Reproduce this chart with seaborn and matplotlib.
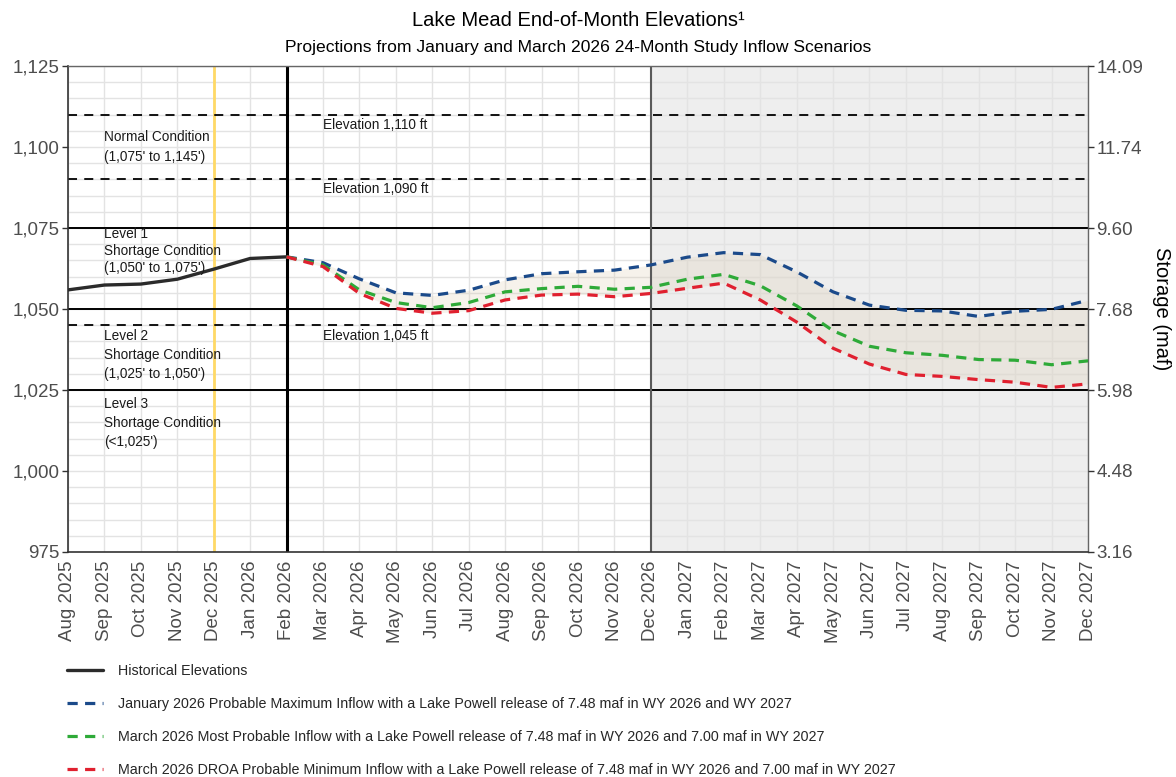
import pandas as pd
import seaborn as sns
import matplotlib.pyplot as plt

# month axis (equally spaced, one slot per month)
months = ["Aug 2025", "Sep 2025", "Oct 2025", "Nov 2025", "Dec 2025", "Jan 2026",
          "Feb 2026", "Mar 2026", "Apr 2026", "May 2026", "Jun 2026", "Jul 2026",
          "Aug 2026", "Sep 2026", "Oct 2026", "Nov 2026", "Dec 2026", "Jan 2027",
          "Feb 2027", "Mar 2027", "Apr 2027", "May 2027", "Jun 2027", "Jul 2027",
          "Aug 2027", "Sep 2027", "Oct 2027", "Nov 2027", "Dec 2027"]

hist_months = months[:7]
hist_elev = [1055.9, 1057.4, 1057.7, 1059.2, 1062.3, 1065.6, 1066.1]

proj_months = months[6:]
jan_max = [1066.1, 1064.3, 1059.3, 1055.0, 1054.2, 1055.8, 1059.0, 1060.9, 1061.5,
           1062.0, 1063.6, 1066.0, 1067.4, 1066.8, 1061.5, 1055.3, 1051.2, 1049.6,
           1049.4, 1047.7, 1049.3, 1049.9, 1052.7]
mar_most = [1066.1, 1063.6, 1055.9, 1052.0, 1050.4, 1052.0, 1055.3, 1056.3, 1057.0,
            1056.1, 1056.7, 1059.2, 1060.7, 1057.2, 1051.0, 1043.3, 1038.5, 1036.5,
            1035.7, 1034.4, 1034.2, 1032.8, 1034.0]
mar_min = [1066.1, 1063.1, 1054.8, 1050.2, 1048.7, 1049.5, 1052.8, 1054.3, 1054.6,
           1053.8, 1054.8, 1056.4, 1058.0, 1052.8, 1046.0, 1037.9, 1033.0, 1029.8,
           1029.2, 1028.2, 1027.4, 1025.8, 1026.9]

elev_ticks = [975, 1000, 1025, 1050, 1075, 1100, 1125]
elev_labels = ["975", "1,000", "1,025", "1,050", "1,075", "1,100", "1,125"]
storage_labels = ["3.16", "4.48", "5.98", "7.68", "9.60", "11.74", "14.09"]

tier_lines = [1075, 1050, 1025]
ref_lines = [1110, 1090, 1045]

labels = [
    "Historical Elevations",
    "January 2026 Probable Maximum Inflow with a Lake Powell release of 7.48 maf in WY 2026 and WY 2027",
    "March 2026 Most Probable Inflow with a Lake Powell release of 7.48 maf in WY 2026 and 7.00 maf in WY 2027",
    "March 2026 DROA Probable Minimum Inflow with a Lake Powell release of 7.48 maf in WY 2026 and 7.00 maf in WY 2027",
]

hist = pd.DataFrame({"month": hist_months, "elev": hist_elev})
hist["pos"] = hist["month"].map(months.index)
proj = pd.DataFrame({"month": proj_months, "max": jan_max, "most": mar_most, "min": mar_min})
proj["pos"] = proj["month"].map(months.index)

sns.set_theme(style="white")
plt.rcParams["font.family"] = ["Liberation Sans", "DejaVu Sans"]

fig = plt.figure(figsize=(11.76, 7.77), dpi=100)
ax = fig.add_axes([0.0578, 0.2896, 0.8674, 0.6254])

# shaded future period and grid
ax.axvspan(months.index("Dec 2026"), len(months) - 1, color="#EEEEEE", zorder=0.2, lw=0)
ax.set_axisbelow(True)
ax.set_xticks(range(len(months)))
ax.set_yticks(elev_ticks)
ax.set_yticks(range(975, 1126, 5), minor=True)
ax.grid(which="both", color="#E3E3E3", lw=1.0, zorder=0.5)

# projection band
ax.fill_between(proj["pos"], proj["max"], proj["min"], color="#D8C6A6", alpha=0.22, lw=0, zorder=1)

# reference lines
ax.axvline(months.index("Dec 2025"), color="#FFD966", lw=2, zorder=1.5)
for y in tier_lines:
    ax.axhline(y, color="black", lw=1.4, zorder=2)
for y in ref_lines:
    ax.axhline(y, color="black", lw=1.3, ls=(0, (5, 4)), zorder=2)
ax.axvline(months.index("Dec 2026"), color="#5A5A5A", lw=1.5, zorder=2)
ax.axvline(months.index("Feb 2026"), color="black", lw=2.2, zorder=2)

# data
sns.lineplot(data=hist, x="pos", y="elev", ax=ax, color="#2B2B2B", lw=2.4,
             label=labels[0], zorder=3)
dash = (0, (3.2, 2.3))
sns.lineplot(data=proj, x="pos", y="max", ax=ax, color="#1B4A8A", lw=2.3, ls=dash,
             label=labels[1], zorder=4)
sns.lineplot(data=proj, x="pos", y="most", ax=ax, color="#2EAA38", lw=2.3, ls=dash,
             label=labels[2], zorder=4)
sns.lineplot(data=proj, x="pos", y="min", ax=ax, color="#E0202F", lw=2.3, ls=dash,
             label=labels[3], zorder=4)

ax.set_xlim(0, len(months) - 1)
ax.set_ylim(975, 1125)
ax.set_xticklabels(months, rotation=90)
ax.set_yticklabels(elev_labels)
ax.set_xlabel("")
ax.set_ylabel("")
ax.tick_params(which="major", length=4, width=1, color="#333333",
               labelcolor="#4D4D4D", labelsize=13.5, pad=2)
ax.tick_params(which="minor", length=0)
for side in ["left", "bottom"]:
    ax.spines[side].set_color("#333333")
    ax.spines[side].set_linewidth(1.2)
for side in ["top", "right"]:
    ax.spines[side].set_color("#666666")
    ax.spines[side].set_linewidth(1.0)

# annotations
txt = dict(fontsize=9.8, color="#1A1A1A", ha="left", va="center", zorder=5)
ax.text(1.0, 1100.0, "Normal Condition\n(1,075' to 1,145')", linespacing=1.5, **txt)
ax.text(1.0, 1067.9, "Level 1\nShortage Condition\n(1,050' to 1,075')", linespacing=1.27, **txt)
ax.text(1.0, 1035.8, "Level 2\nShortage Condition\n(1,025' to 1,050')", linespacing=1.42, **txt)
ax.text(1.0, 1014.8, "Level 3\nShortage Condition\n(<1,025')", linespacing=1.47, **txt)
ax.text(7.0, 1106.8, "Elevation 1,110 ft", **txt)
ax.text(7.0, 1087.0, "Elevation 1,090 ft", **txt)
ax.text(7.0, 1041.7, "Elevation 1,045 ft", **txt)

# storage axis
ax2 = ax.twinx()
ax2.set_ylim(975, 1125)
ax2.set_yticks(elev_ticks)
ax2.set_yticklabels(storage_labels)
ax2.grid(False)
ax2.tick_params(length=4, width=1, color="#333333", labelcolor="#4D4D4D", labelsize=13.5, pad=2)
ax2.set_ylabel("Storage (maf)", rotation=270, fontsize=14.5, color="black", labelpad=20)
for sp in ax2.spines.values():
    sp.set_visible(False)

fig.text(0.4915, 0.974, "Lake Mead End-of-Month Elevations\u00b9", ha="center", va="center",
         fontsize=14.5, color="black")
fig.text(0.4915, 0.9395, "Projections from January and March 2026 24-Month Study Inflow Scenarios",
         ha="center", va="center", fontsize=12.6, color="black")

handles, labs = ax.get_legend_handles_labels()
ax.get_legend().remove()
fig.legend(handles, labs, loc="upper left", bbox_to_anchor=(0.046, 0.162), frameon=False,
           fontsize=10.3, handlelength=2.5, handletextpad=1.1, labelspacing=1.32)

fig.savefig("out.png", dpi=100)
